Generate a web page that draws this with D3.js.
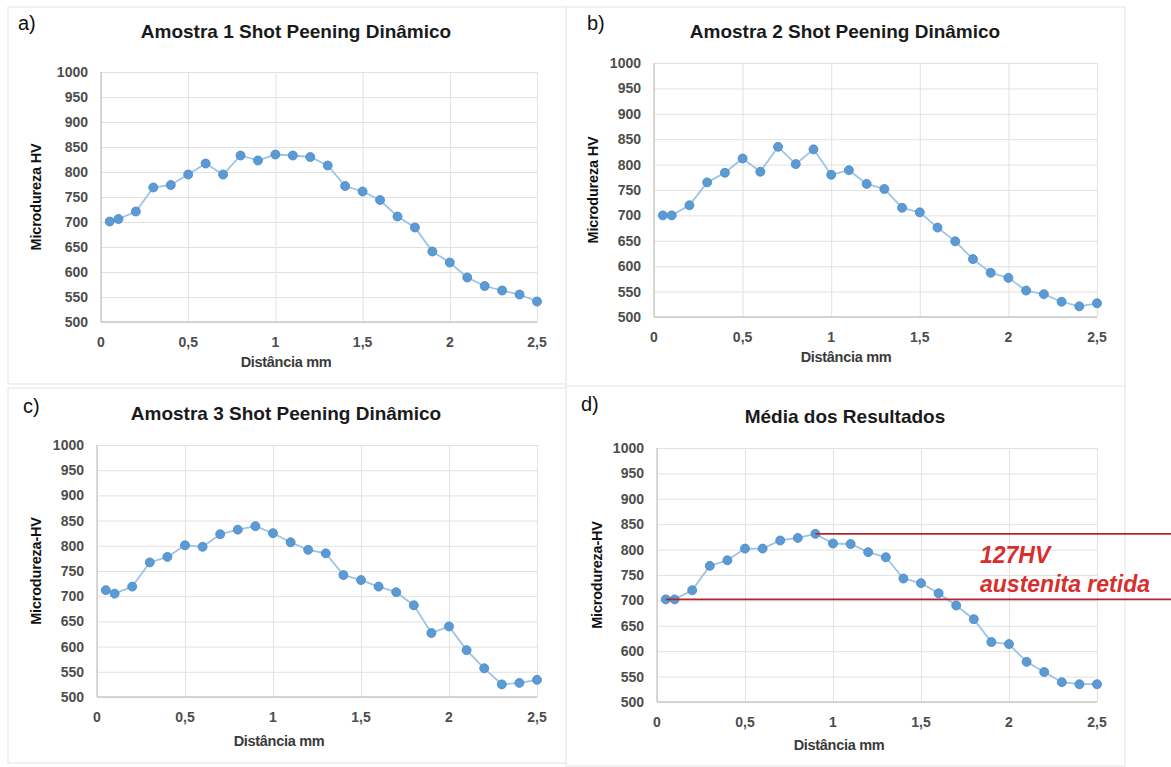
<!DOCTYPE html>
<html>
<head>
<meta charset="utf-8">
<script src="https://cdn.jsdelivr.net/npm/d3@7"></script>
<style>
  body { margin: 0; background: #fff; }
  text { font-family: "Liberation Sans", Arial, sans-serif; }
</style>
</head>
<body>
<div id="chart"></div>
<script>
// distance from the surface, mm
const distance = [0.05, 0.1, 0.2, 0.3, 0.4, 0.5, 0.6, 0.7, 0.8, 0.9, 1.0, 1.1, 1.2,
  1.3, 1.4, 1.5, 1.6, 1.7, 1.8, 1.9, 2.0, 2.1, 2.2, 2.3, 2.4, 2.5];

// microhardness HV per sample
const amostra1 = [701, 706, 721, 769, 774, 795, 817, 795, 833, 823, 835, 833, 830,
  813, 772, 761, 744, 711, 689, 641, 619, 589, 572, 563, 555, 541];
const amostra2 = [700, 700, 720, 765, 784, 812, 786, 835, 801, 830, 780, 789, 762,
  752, 715, 706, 676, 649, 614, 587, 577, 552, 545, 530, 521, 527];
const amostra3 = [712, 705, 719, 767, 778, 801, 798, 823, 832, 839, 825, 807, 792,
  785, 742, 732, 719, 708, 682, 627, 640, 593, 557, 525, 528, 534];
const media = [702, 702, 720, 768, 779, 802, 802, 818, 823, 831, 812, 811, 795,
  785, 743, 734, 714, 690, 663, 618, 614, 579, 559, 539, 535, 535];

const xTicks = [0, 0.5, 1, 1.5, 2, 2.5];
const yTicks = [500, 550, 600, 650, 700, 750, 800, 850, 900, 950, 1000];

const titles = ["Amostra 1  Shot Peening Dinâmico", "Amostra 2  Shot Peening Dinâmico",
  "Amostra 3  Shot Peening Dinâmico", "Média dos Resultados"];
const letters = ["a)", "b)", "c)", "d)"];
const yLabels = ["Microdureza HV", "Microdureza HV", "Microdureza-HV", "Microdureza-HV"];
const xLabel = "Distância mm";

// retained austenite band on the average chart
const bandLevels = [831, 702];
const bandStartX = [0.9, 0.05];
const bandText = ["127HV", "austenita retida"];

const W = 1171, H = 767;

const svg = d3.select("#chart").append("svg")
  .attr("width", W)
  .attr("height", H);

const fmt = d => String(d).replace(".", ",");

// layout for each panel (page pixels)
const panels = [
  { values: amostra1, box: [8, 7, 559, 377], left: 101, right: 537, top: 72, bottom: 322,
    title: [296, 31], letter: [18, 30], xl: [286, 362], yl: [36, 197] },
  { values: amostra2, box: [566, 7, 559, 381], left: 654, right: 1097, top: 63, bottom: 317,
    title: [845, 31], letter: [587, 30], xl: [846, 357], yl: [593, 190] },
  { values: amostra3, box: [8, 388, 559, 375], left: 97, right: 537, top: 445, bottom: 697,
    title: [286, 413], letter: [23, 413], xl: [279, 741], yl: [36, 571] },
  { values: media, box: [566, 386, 559, 380], left: 657, right: 1097, top: 448, bottom: 702,
    title: [845, 416], letter: [581, 411], xl: [839, 745], yl: [597, 575] }
];

panels.forEach(function(p, i) {
  const g = svg.append("g");

  // chart area border
  g.append("rect")
    .attr("x", p.box[0]).attr("y", p.box[1])
    .attr("width", p.box[2]).attr("height", p.box[3])
    .attr("fill", "#fff")
    .attr("stroke", "#e3e3e3");

  const x = d3.scaleLinear().domain([0, 2.5]).range([p.left, p.right]);
  const y = d3.scaleLinear().domain([500, 1000]).range([p.bottom, p.top]);

  // gridlines
  g.append("g")
    .attr("transform", "translate(0," + p.bottom + ")")
    .call(d3.axisBottom(x).tickValues(xTicks).tickSize(-(p.bottom - p.top)).tickFormat(""))
    .call(a => a.select(".domain").remove())
    .selectAll("line").attr("stroke", "#e1e1e1");

  g.append("g")
    .attr("transform", "translate(" + p.left + ",0)")
    .call(d3.axisLeft(y).tickValues(yTicks).tickSize(-(p.right - p.left)).tickFormat(""))
    .call(a => a.select(".domain").remove())
    .selectAll("line").attr("stroke", "#e1e1e1");

  // axes lines
  g.append("line")
    .attr("x1", p.left).attr("x2", p.right)
    .attr("y1", p.bottom).attr("y2", p.bottom)
    .attr("stroke", "#c8c8c8").attr("stroke-width", 1.3);
  g.append("line")
    .attr("x1", p.left).attr("x2", p.left)
    .attr("y1", p.top).attr("y2", p.bottom)
    .attr("stroke", "#c8c8c8").attr("stroke-width", 1.3);

  // tick labels
  g.selectAll("text.ytick")
    .data(yTicks)
    .enter().append("text")
    .attr("class", "ytick")
    .attr("x", p.left - 13)
    .attr("y", d => y(d))
    .attr("dy", "0.35em")
    .attr("text-anchor", "end")
    .style("font-size", "14px")
    .style("font-weight", "bold")
    .style("fill", "#4d4d4d")
    .text(d => d);

  g.selectAll("text.xtick")
    .data(xTicks)
    .enter().append("text")
    .attr("class", "xtick")
    .attr("x", d => x(d))
    .attr("y", p.bottom + 20)
    .attr("dy", "0.35em")
    .attr("text-anchor", "middle")
    .style("font-size", "14px")
    .style("font-weight", "bold")
    .style("fill", "#4d4d4d")
    .text(fmt);

  // titles and labels
  g.append("text")
    .attr("x", p.title[0]).attr("y", p.title[1])
    .attr("dy", "0.35em")
    .attr("text-anchor", "middle")
    .style("font-size", "19px")
    .style("font-weight", "bold")
    .style("fill", "#1a1a1a")
    .text(titles[i]);

  g.append("text")
    .attr("x", p.letter[0]).attr("y", p.letter[1])
    .style("font-size", "20px")
    .style("fill", "#111")
    .text(letters[i]);

  g.append("text")
    .attr("x", p.xl[0]).attr("y", p.xl[1])
    .attr("dy", "0.35em")
    .attr("text-anchor", "middle")
    .style("font-size", "14.5px")
    .style("font-weight", "bold")
    .style("letter-spacing", "-0.3px")
    .style("fill", "#3a3a3a")
    .text(xLabel);

  g.append("text")
    .attr("transform", "translate(" + p.yl[0] + "," + p.yl[1] + ") rotate(-90)")
    .attr("dy", "0.35em")
    .attr("text-anchor", "middle")
    .style("font-size", "14.5px")
    .style("font-weight", "bold")
    .style("letter-spacing", "-0.2px")
    .style("fill", "#111")
    .text(yLabels[i]);

  // series
  const pts = distance.map((d, k) => [d, p.values[k]]);

  g.append("path")
    .datum(pts)
    .attr("fill", "none")
    .attr("stroke", "#9dc3e6")
    .attr("stroke-width", 1.8)
    .attr("d", d3.line().x(d => x(d[0])).y(d => y(d[1])));

  g.selectAll("circle")
    .data(pts)
    .enter().append("circle")
    .attr("cx", d => x(d[0]))
    .attr("cy", d => y(d[1]))
    .attr("r", 4.5)
    .attr("fill", "#5b9bd5")
    .attr("stroke", "#4a88c4")
    .attr("stroke-width", 0.8);

  // annotation on the average chart
  if (i === 3) {
    g.selectAll("line.band")
      .data(bandLevels)
      .enter().append("line")
      .attr("class", "band")
      .attr("x1", (d, k) => x(bandStartX[k]))
      .attr("x2", W)
      .attr("y1", d => y(d))
      .attr("y2", d => y(d))
      .attr("stroke", "#b0262c")
      .attr("stroke-width", 1.6);

    g.selectAll("text.band")
      .data(bandText)
      .enter().append("text")
      .attr("class", "band")
      .attr("x", 980)
      .attr("y", (d, k) => 563 + k * 29)
      .style("font-size", "23px")
      .style("font-weight", "bold")
      .style("font-style", "italic")
      .style("fill", "#d6302e")
      .text(d => d);
  }
});
</script>
</body>
</html>
